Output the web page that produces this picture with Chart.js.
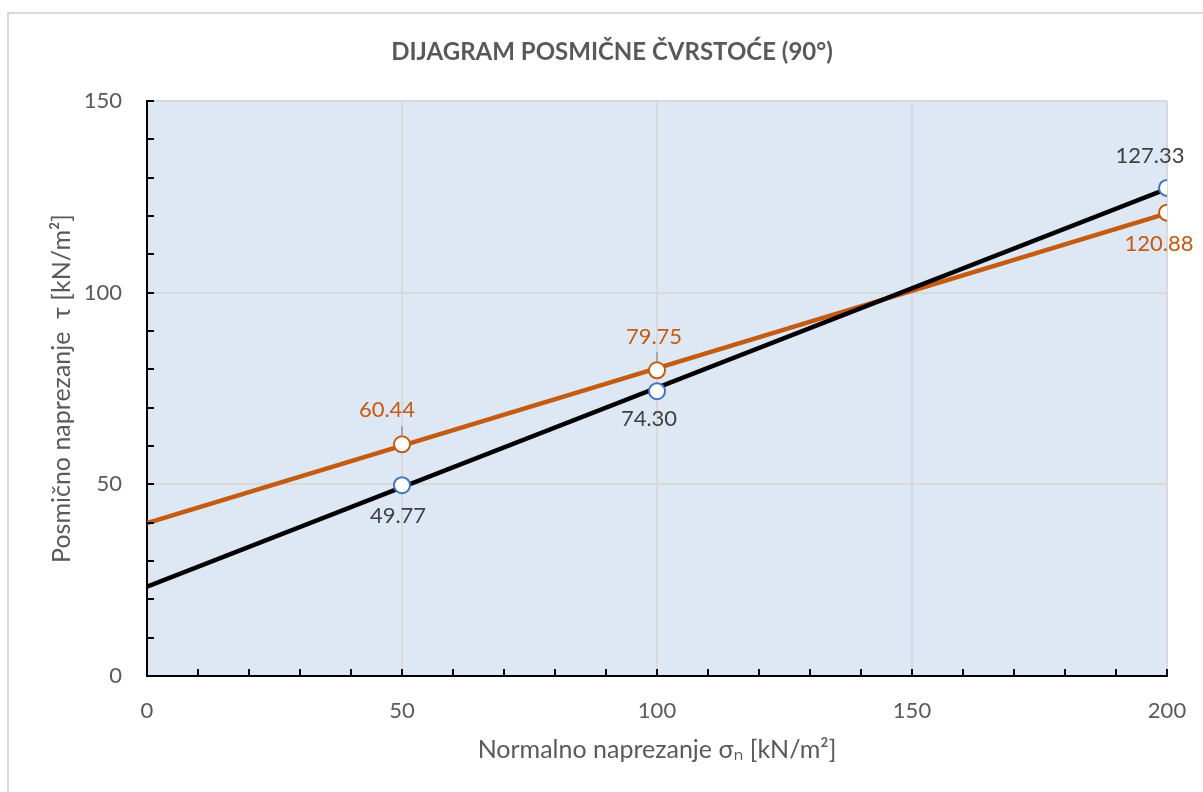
<!DOCTYPE html>
<html>
<head>
<meta charset="utf-8">
<script src="https://cdn.jsdelivr.net/npm/chart.js@4.4.0/dist/chart.umd.min.js"></script>
<style>
  html, body { margin: 0; padding: 0; background: #fff; }
  #wrap { width: 1203px; height: 792px; position: relative; }
</style>
</head>
<body>
<div id="wrap"><canvas id="chart"></canvas></div>
<script>
// podaci
const sigmaN = [50, 100, 200];
const tauMeasured = [49.77, 74.30, 127.33];
const tauCorrected = [60.44, 79.75, 120.88];
const trendX = [0, 200];
const trendMeasured = [23.3, 127.1];
const trendCorrected = [39.9, 120.7];
const xTicks = [0, 50, 100, 150, 200];
const yTicks = [0, 50, 100, 150];
const chartTitle = 'DIJAGRAM POSMIČNE ČVRSTOĆE (90°)';

const ORANGE = '#c55a11';
const BLUE = '#4472c4';
const TEXT = '#595959';
const FONT = 'Lato, "Open Sans", sans-serif';

// položaj oznaka: [dx, dy, leader]
const labelsMeasured = [[-4, 31, false], [-8, 28, false], [-17, -32, false]];
const labelsCorrected = [[-15, -34, true], [-3, -33, true], [-8, 31, false]];

function pts(xs, ys) {
    return xs.map((x, i) => ({ x: x, y: ys[i] }));
}

// okvir, pozadina područja crtanja + naslov
const plotBg = {
    id: 'plotBg',
    beforeDraw(chart) {
        const { ctx, chartArea: a, width, height } = chart;
        ctx.save();
        ctx.strokeStyle = '#d9d9d9';
        ctx.lineWidth = 2;
        ctx.beginPath();
        ctx.moveTo(8, height);
        ctx.lineTo(8, 13);
        ctx.lineTo(width, 13);
        ctx.stroke();
        ctx.fillStyle = '#dee8f4';
        ctx.fillRect(a.left, a.top, a.right - a.left, a.bottom - a.top);
        ctx.fillStyle = TEXT;
        ctx.font = 'bold 24px ' + FONT;
        ctx.textAlign = 'center';
        ctx.textBaseline = 'middle';
        ctx.fillText(chartTitle, 612, 52);
        ctx.restore();
    }
};

// male crtice prema unutra
const innerTicks = {
    id: 'innerTicks',
    afterDraw(chart) {
        const { ctx, chartArea: a, scales } = chart;
        ctx.save();
        ctx.strokeStyle = '#000';
        ctx.lineWidth = 2;
        for (let v = 10; v <= 200; v += 10) {
            const px = Math.round(scales.x.getPixelForValue(v));
            ctx.beginPath();
            ctx.moveTo(px, a.bottom);
            ctx.lineTo(px, a.bottom - 7);
            ctx.stroke();
        }
        for (let v = 10; v <= 150; v += 10) {
            const py = Math.round(scales.y.getPixelForValue(v));
            ctx.beginPath();
            ctx.moveTo(a.left, py);
            ctx.lineTo(a.left + 7, py);
            ctx.stroke();
        }
        ctx.restore();
    }
};

// oznake vrijednosti
const valueLabels = {
    id: 'valueLabels',
    afterDatasetsDraw(chart) {
        const { ctx } = chart;
        const sets = [[0, labelsMeasured, '#404040'], [1, labelsCorrected, ORANGE]];
        ctx.save();
        ctx.font = '22px ' + FONT;
        ctx.textAlign = 'center';
        ctx.textBaseline = 'middle';
        sets.forEach(([idx, pos, color]) => {
            const meta = chart.getDatasetMeta(idx);
            const data = chart.data.datasets[idx].data;
            meta.data.forEach((el, i) => {
                const [dx, dy, leader] = pos[i];
                if (leader) {
                    ctx.strokeStyle = '#a6a6a6';
                    ctx.lineWidth = 2;
                    ctx.beginPath();
                    ctx.moveTo(el.x, el.y - 9);
                    ctx.lineTo(el.x, el.y - 18);
                    ctx.stroke();
                }
                ctx.fillStyle = color;
                ctx.fillText(data[i].y.toFixed(2), el.x + dx, el.y + dy);
            });
        });
        ctx.restore();
    }
};

const gridColor = c => (c.tick && c.tick.value !== 0) ? '#d9d9d9' : 'rgba(0,0,0,0)';
const noPad = s => { s.paddingLeft = 0; s.paddingRight = 0; s.paddingTop = 0; s.paddingBottom = 0; };

new Chart(document.getElementById('chart'), {
    type: 'scatter',
    data: {
        datasets: [
            {
                label: 'Izmjereno',
                data: pts(sigmaN, tauMeasured),
                pointRadius: 8,
                pointBorderWidth: 2,
                pointBackgroundColor: '#fff',
                pointBorderColor: BLUE,
                showLine: false
            },
            {
                label: 'Korigirano',
                data: pts(sigmaN, tauCorrected),
                pointRadius: 8,
                pointBorderWidth: 2,
                pointBackgroundColor: '#fff',
                pointBorderColor: ORANGE,
                showLine: false
            },
            {
                label: 'Trend izmjereno',
                data: pts(trendX, trendMeasured),
                showLine: true,
                borderColor: '#000',
                borderWidth: 4.5,
                pointRadius: 0
            },
            {
                label: 'Trend korigirano',
                data: pts(trendX, trendCorrected),
                showLine: true,
                borderColor: ORANGE,
                borderWidth: 4.5,
                pointRadius: 0
            }
        ]
    },
    options: {
        responsive: true,
        maintainAspectRatio: false,
        animation: false,
        layout: { padding: { top: 101, right: 36, bottom: 0, left: 0 } },
        plugins: {
            legend: { display: false },
            tooltip: { enabled: false },
            title: { display: false }
        },
        scales: {
            x: {
                type: 'linear',
                min: 0,
                max: 200,
                afterBuildTicks: s => { s.ticks = xTicks.map(v => ({ value: v })); },
                afterFit: s => { s.height = 116; noPad(s); },
                grid: { color: gridColor, lineWidth: 2, drawTicks: false },
                border: { color: '#000', width: 2 },
                ticks: { color: TEXT, font: { family: FONT, size: 22 }, padding: 22 },
                title: {
                    display: true,
                    text: 'Normalno naprezanje σₙ [kN/m²]',
                    color: TEXT,
                    font: { family: FONT, size: 25 },
                    padding: { top: 0, bottom: 27 }
                }
            },
            y: {
                type: 'linear',
                min: 0,
                max: 150,
                afterBuildTicks: s => { s.ticks = yTicks.map(v => ({ value: v })); },
                afterFit: s => { s.width = 147; noPad(s); },
                grid: { color: gridColor, lineWidth: 2, drawTicks: false },
                border: { color: '#000', width: 2 },
                ticks: { color: TEXT, font: { family: FONT, size: 22 }, padding: 25 },
                title: {
                    display: true,
                    text: 'Posmično naprezanje  τ [kN/m²]',
                    color: TEXT,
                    font: { family: FONT, size: 25 },
                    padding: { top: 47, bottom: 0 }
                }
            }
        }
    },
    plugins: [plotBg, innerTicks, valueLabels]
});
</script>
</body>
</html>
